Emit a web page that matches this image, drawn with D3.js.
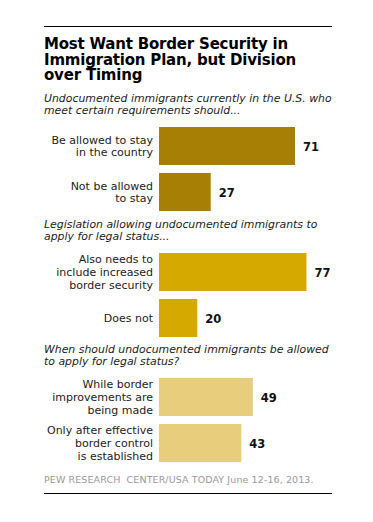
<!DOCTYPE html>
<html>
<head>
<meta charset="utf-8">
<script src="https://cdn.jsdelivr.net/npm/d3@7"></script>
<style>
  body { margin: 0; background: #fff; }
  svg text { font-family: Verdana, "DejaVu Sans", sans-serif; }
</style>
</head>
<body>
<div id="chart"></div>
<script>
// chart text
var titleLines = ["Most Want Border Security in", "Immigration Plan, but Division", "over Timing"];
var sourceNote = "PEW RESEARCH  CENTER/USA TODAY June 12-16, 2013.";

// three questions, two answers each
var questions = [
  ["Undocumented immigrants currently in the U.S. who", "meet certain requirements should..."],
  ["Legislation allowing undocumented immigrants to", "apply for legal status..."],
  ["When should undocumented immigrants be allowed", "to apply for legal status?"]
];
var answers = [
  [["Be allowed to stay", "in the country"], ["Not be allowed", "to stay"]],
  [["Also needs to", "include increased", "border security"], ["Does not"]],
  [["While border", "improvements are", "being made"], ["Only after effective", "border control", "is established"]]
];
var values = [
  [71, 27],
  [77, 20],
  [49, 43]
];
var colors = ["#a67f04", "#d6a900", "#e8cd7c"];

var width = 373, height = 522;
var left = 44, right = 332;
var barX = 159;
var groupTops = [127, 253, 378];

var svg = d3.select("#chart").append("svg")
  .attr("width", width)
  .attr("height", height);

// top and bottom rules
svg.append("line").attr("x1", left).attr("x2", right).attr("y1", 26.5).attr("y2", 26.5)
  .attr("stroke", "#000").attr("stroke-width", 1);
svg.append("line").attr("x1", left).attr("x2", right).attr("y1", 493.5).attr("y2", 493.5)
  .attr("stroke", "#000").attr("stroke-width", 1);

// title
svg.append("text")
  .attr("x", left)
  .attr("y", 49)
  .style("font-size", "15px")
  .style("font-weight", "bold")
  .style("letter-spacing", "-0.2px")
  .attr("fill", "#000")
  .selectAll("tspan")
  .data(titleLines)
  .join("tspan")
    .attr("x", left)
    .attr("dy", function(d, i) { return i == 0 ? 0 : 15.5; })
    .text(function(d) { return d; });

var x = d3.scaleLinear()
  .domain([0, 100])
  .range([barX, barX + 191.5]);

questions.forEach(function(q, gi) {
  var top = groupTops[gi];
  var g = svg.append("g");

  // question text, italic
  g.append("text")
    .style("font-size", "10.9px")
    .style("font-style", "italic")
    .attr("fill", "#222")
    .selectAll("tspan")
    .data(q)
    .join("tspan")
      .attr("x", left)
      .attr("y", function(d, i) { return top - 25 + i * 11.7; })
      .text(function(d) { return d; });

  var y = d3.scaleBand()
    .domain(d3.range(values[gi].length))
    .range([top, top + 84])
    .paddingInner(8 / 46)
    .paddingOuter(0);

  var rows = g.selectAll("g.row")
    .data(values[gi])
    .join("g")
      .attr("class", "row");

  rows.append("rect")
    .attr("x", x(0))
    .attr("y", function(d, i) { return y(i); })
    .attr("width", function(d) { return x(d) - x(0); })
    .attr("height", y.bandwidth())
    .attr("fill", colors[gi]);

  rows.append("text")
    .attr("x", function(d) { return x(d) + 8; })
    .attr("y", function(d, i) { return y(i) + y.bandwidth() / 2 + 4.5; })
    .style("font-size", "11.5px")
    .style("font-weight", "bold")
    .attr("fill", "#111")
    .text(function(d) { return d; });

  // answer labels, right aligned
  rows.append("text")
    .attr("text-anchor", "end")
    .style("font-size", "11px")
    .attr("fill", "#222")
    .each(function(d, i) {
      var lines = answers[gi][i];
      var mid = y(i) + y.bandwidth() / 2;
      var first = mid + 4 - (lines.length - 1) * 12.7 / 2;
      d3.select(this).selectAll("tspan")
        .data(lines)
        .join("tspan")
          .attr("x", 153)
          .attr("y", function(l, k) { return first + k * 12.7; })
          .text(function(l) { return l; });
    });
});

// source
svg.append("text")
  .attr("x", left)
  .attr("y", 482.5)
  .style("font-size", "9.5px")
  .style("letter-spacing", "0.1px")
  .style("white-space", "pre")
  .attr("fill", "#999")
  .text(sourceNote);
</script>
</body>
</html>
